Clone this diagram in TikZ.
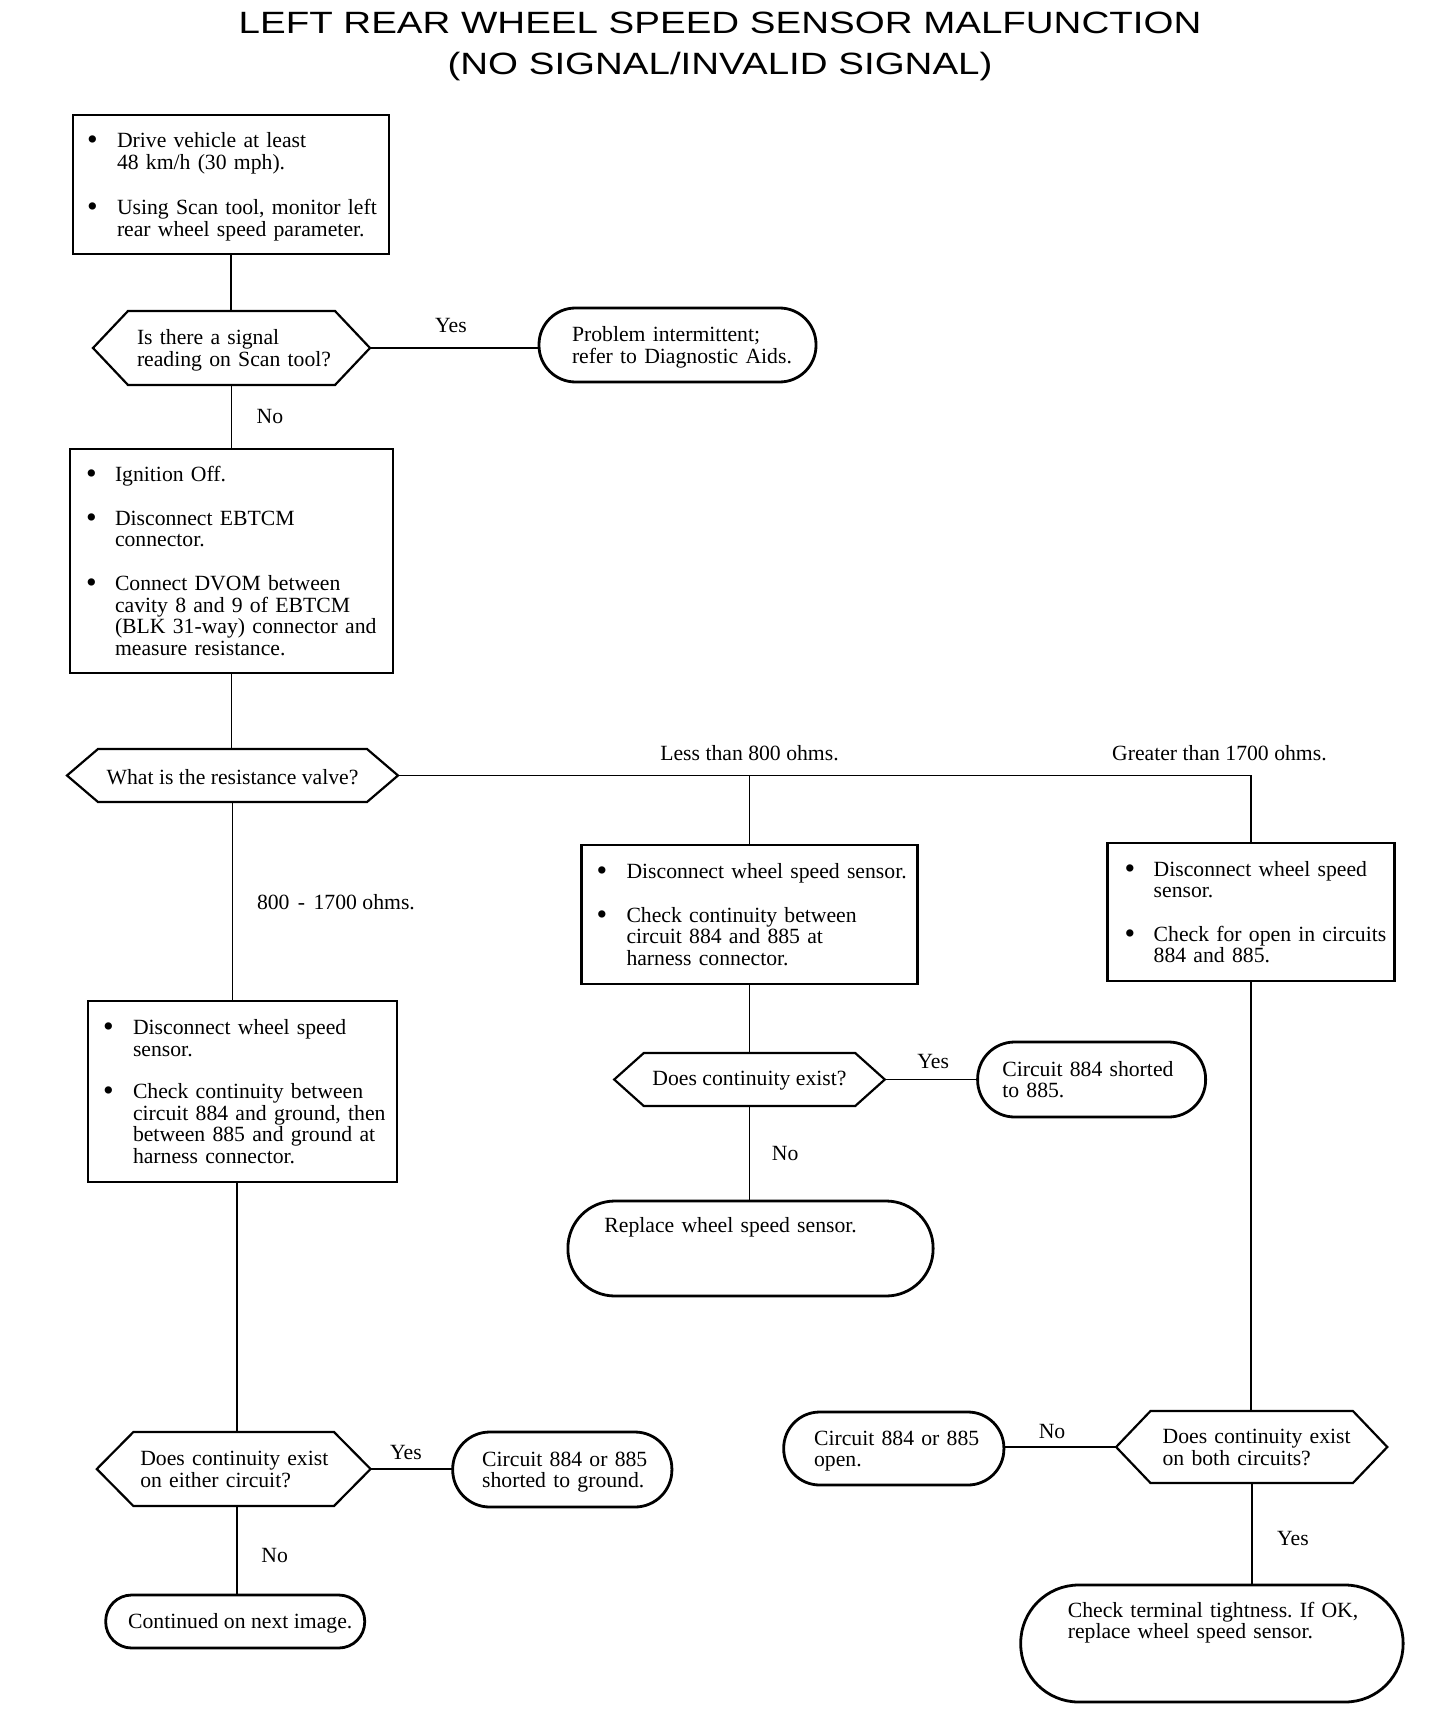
\documentclass[tikz,border=0pt]{standalone}
\usepackage{fontspec}
\setmainfont{Liberation Serif}
\newfontfamily\titlefont{Liberation Sans}
\frenchspacing
\newcommand\hexdraw[2]{\draw[hexline] (#1.west) -- ([xshift=#2]#1.north west) -- ([xshift=-#2]#1.north east) -- (#1.east) -- ([xshift=-#2]#1.south east) -- ([xshift=#2]#1.south west) -- cycle;}
\newcommand\bl[1]{\makebox[#1][l]{\raisebox{-0.09em}{\scalebox{1.4}{\textbullet}}}}
\newcommand\dn[2][1.6pt]{\raisebox{-#1}[\height][\depth]{#2}}
\begin{document}
\begin{tikzpicture}[x=0.5pt,y=-0.5pt,
  every node/.style={font=\fontsize{10.85}{10.75}\selectfont\frenchspacing, inner sep=0pt, outer sep=0pt},
  boxst/.style={draw, line width=1.4pt},
  pill/.style={draw, line width=1.4pt},
  hexnode/.style={inner sep=0pt},
  hexline/.style={line width=1.1pt, line join=miter},
  conn/.style={line width=0.9pt},
  lbl/.style={}]
\fill[white] (0,0) rectangle (1440,1722);
\useasboundingbox (0,0) rectangle (1440,1722);

% title
\node[font=\titlefont\fontsize{15.4}{20.75}\selectfont, align=center] (title) at (720,46.5)
  {\scalebox{1.25}[1]{LEFT REAR WHEEL SPEED SENSOR MALFUNCTION}\\\scalebox{1.25}[1]{(NO SIGNAL/INVALID SIGNAL)}};

% boxes
\node[boxst, minimum width=158pt, minimum height=69.5pt, text width=144pt] (b1) at (231,184.5)
 {\noindent\dn{\begin{tabular}{@{}l@{}l@{}}
 \bl{15pt} & Drive vehicle at least\\
  & 48 km/h (30 mph).\\[12pt]
 \bl{15pt} & Using Scan tool, monitor left\\
  & rear wheel speed parameter.
 \end{tabular}}};

\node[hexnode, minimum width=138.5pt, minimum height=37pt, text width=94.5pt] (dia1) at (231.5,348)
 {\noindent\dn{\begin{tabular}{@{}l@{}}Is there a signal\\ reading on Scan tool?\end{tabular}}};
\hexdraw{dia1}{17.5pt}

\node[pill, rounded corners=18.25pt, minimum width=138.5pt, minimum height=37pt, text width=105.5pt] (p1) at (677.5,345)
 {\noindent\dn{\begin{tabular}{@{}l@{}}Problem intermittent;\\ refer to Diagnostic Aids.\end{tabular}}};

\node[boxst, minimum width=161.5pt, minimum height=112pt, text width=145.5pt] (b2) at (231.5,561)
 {\noindent\dn{\begin{tabular}{@{}l@{}l@{}}
 \bl{14.5pt} & Ignition Off.\\[11pt]
 \bl{14.5pt} & Disconnect EBTCM\\
  & connector.\\[11pt]
 \bl{14.5pt} & Connect DVOM between\\
  & cavity 8 and 9 of EBTCM\\
  & (BLK 31-way) connector and\\
  & measure resistance.
 \end{tabular}}};

\node[hexnode, minimum width=165.5pt, minimum height=26.5pt] (dia2) at (232.5,775.5) {\dn[0.8pt]{What is the resistance valve?}};
\hexdraw{dia2}{15.5pt}

\node[boxst, minimum width=167.9pt, minimum height=69.5pt, text width=153pt] (b3) at (749.5,914.5)
 {\noindent\dn{\begin{tabular}{@{}l@{}l@{}}
 \bl{15pt} & Disconnect wheel speed sensor.\\[11pt]
 \bl{15pt} & Check continuity between\\
  & circuit 884 and 885 at\\
  & harness connector.
 \end{tabular}}};

\node[boxst, minimum width=143.2pt, minimum height=69pt, text width=126.3pt] (b4) at (1251,912)
 {\noindent\dn{\begin{tabular}{@{}l@{}l@{}}
 \bl{14.5pt} & Disconnect wheel speed\\
  & sensor.\\[11pt]
 \bl{14.5pt} & Check for open in circuits\\
  & 884 and 885.
 \end{tabular}}};

\node[boxst, minimum width=154.5pt, minimum height=90.5pt, text width=139.5pt] (b5) at (242.5,1091.5)
 {\noindent\dn{\begin{tabular}{@{}l@{}l@{}}
 \bl{15pt} & Disconnect wheel speed\\
  & sensor.\\[10.5pt]
 \bl{15pt} & Check continuity between\\
  & circuit 884 and ground, then\\
  & between 885 and ground at\\
  & harness connector.
 \end{tabular}}};

\node[hexnode, minimum width=135.3pt, minimum height=26.5pt] (dia3) at (749.5,1079.5) {\dn[0.8pt]{Does continuity exist?}};
\hexdraw{dia3}{14.8pt}

\node[pill, rounded corners=18.5pt, minimum width=114pt, minimum height=37.5pt, text width=89.3pt] (p2) at (1091.6,1079.5)
 {\noindent\dn{\begin{tabular}{@{}l@{}}Circuit 884 shorted\\ to 885.\end{tabular}}};

\node[pill, rounded corners=23.5pt, minimum width=182.6pt, minimum height=47.5pt, text width=146.1pt] (p3) at (750.5,1248.5)
 {\noindent\begin{tabular}{@{}l@{}}Replace wheel speed sensor.\rule[-23.7pt]{0pt}{23.7pt}\end{tabular}};

\node[hexnode, minimum width=135.6pt, minimum height=36pt, text width=89.1pt] (dia4) at (1251.7,1447)
 {\noindent\dn{\begin{tabular}{@{}l@{}}Does continuity exist\\ on both circuits?\end{tabular}}};
\hexdraw{dia4}{17.2pt}

\node[pill, rounded corners=18pt, minimum width=110.1pt, minimum height=36.5pt, text width=79.7pt] (p6) at (893.8,1448.5)
 {\noindent\dn{\begin{tabular}{@{}l@{}}Circuit 884 or 885\\ open.\end{tabular}}};

\node[pill, rounded corners=29pt, minimum width=191.2pt, minimum height=58.5pt, text width=144.1pt] (p7) at (1211.9,1643.5)
 {\noindent\begin{tabular}{@{}l@{}}Check terminal tightness. If OK,\\ replace wheel speed sensor.\rule[-23.2pt]{0pt}{23.2pt}\end{tabular}};

\node[hexnode, minimum width=136.9pt, minimum height=37pt, text width=93.4pt] (dia5) at (233.7,1469)
 {\noindent\dn{\begin{tabular}{@{}l@{}}Does continuity exist\\ on either circuit?\end{tabular}}};
\hexdraw{dia5}{18.3pt}

\node[pill, rounded corners=18.5pt, minimum width=109.6pt, minimum height=37.5pt, text width=80.1pt] (p4) at (562.3,1469.5)
 {\noindent\dn{\begin{tabular}{@{}l@{}}Circuit 884 or 885\\ shorted to ground.\end{tabular}}};

\node[pill, rounded corners=13pt, minimum width=129.5pt, minimum height=26.5pt] (p5) at (235.2,1621.5) {\dn[0.8pt]{\hspace*{5pt}Continued on next image.}};

% connectors
\draw[conn] (b1.south) -- (b1.south |- dia1.north);
\draw[conn] (dia1.east) -- (dia1.east -| p1.west);
\draw[conn] (dia1.south) -- (dia1.south |- b2.north);
\draw[conn] (b2.south) -- (b2.south |- dia2.north);
\draw[conn] (dia2.east) -| (b4.north);
\coordinate (j1) at (b3.north |- dia2.east);
\draw[conn] (j1) -- (b3.north);
\draw[conn] (dia2.south) -- (dia2.south |- b5.north);
\coordinate (j2) at ([xshift=1.7pt]dia5.north);
\coordinate (j3) at ([xshift=1.7pt]dia5.south);
\draw[conn] (j2 |- b5.south) -- (j2);
\draw[conn] (dia5.east) -- (dia5.east -| p4.west);
\draw[conn] (j3) -- (j3 |- p5.north);
\draw[conn] (b3.south) -- (b3.south |- dia3.north);
\draw[conn] (dia3.east) -- (dia3.east -| p2.west);
\draw[conn] (dia3.south) -- (dia3.south |- p3.north);
\draw[conn] (b4.south) -- (b4.south |- dia4.north);
\draw[conn] (dia4.west) -- (dia4.west -| p6.east);
\draw[conn] (dia4.south) -- (dia4.south |- p7.north);

% labels
\node[lbl] (lyes1) at (451,326) {Yes};
\node[lbl] (lno1) at (270,417) {No};
\node[lbl] (lless) at (749.5,753) {Less than 800 ohms.};
\node[lbl] (lgreat) at (1219.4,753) {Greater than 1700 ohms.};
\node[lbl, anchor=west] (lmid) at (257,902) {800\hspace{1.5pt} - \hspace{1.5pt}1700 ohms.};
\node[lbl] (lyes2) at (933.2,1061) {Yes};
\node[lbl] (lno2) at (785.1,1153) {No};
\node[lbl] (lyes3) at (406,1452) {Yes};
\node[lbl] (lno3) at (274.7,1555) {No};
\node[lbl] (lno4) at (1052,1431) {No};
\node[lbl] (lyes4) at (1293,1538) {Yes};
\end{tikzpicture}
\end{document}
